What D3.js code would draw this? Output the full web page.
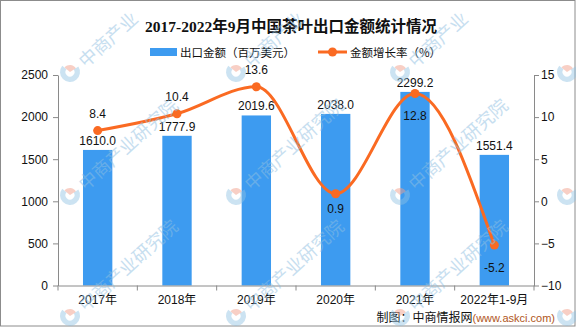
<!DOCTYPE html>
<html>
<head>
<meta charset="utf-8">
<script src="https://cdn.jsdelivr.net/npm/d3@7"></script>
<style>
  html, body { margin: 0; padding: 0; background: #fff; }
  svg { display: block; }
</style>
</head>
<body>
<svg id="chart" width="576" height="327"></svg>
<script>
// Tea export value (million USD) and year-on-year growth (%)
const categories = ["2017年", "2018年", "2019年", "2020年", "2021年", "2022年1-9月"];
const exportValue = [1610.0, 1777.9, 2019.6, 2038.0, 2299.2, 1551.4];
const growthRate = [8.4, 10.4, 13.6, 0.9, 12.8, -5.2];
const leftTicks = [0, 500, 1000, 1500, 2000, 2500];
const rightTicks = [-10, -5, 0, 5, 10, 15];

const titleText = "2017-2022年9月中国茶叶出口金额统计情况";
const barName = "出口金额（百万美元）";
const lineName = "金额增长率（%）";

const W = 576, H = 327;
const plot = { left: 58, right: 534, top: 75, bottom: 285.5 };
const barColor = "#3d9bf0";
const lineColor = "#fa6a22";
const axisColor = "#8a8a8a";
const cjk = "'Noto Sans CJK SC', 'Noto Sans', sans-serif";
const num = "'Liberation Sans', Arial, sans-serif";

const svg = d3.select("#chart");

// frame
svg.append("rect")
  .attr("x", 0.5).attr("y", 0.5)
  .attr("width", W - 1.5).attr("height", H - 1.5)
  .attr("fill", "#fff").attr("stroke", "#8c8c8c").attr("stroke-width", 1);

const x = d3.scaleBand().domain(categories).range([plot.left, plot.right]).padding(0);
const yL = d3.scaleLinear().domain([0, 2500]).range([plot.bottom, plot.top]);
const yR = d3.scaleLinear().domain([-10, 15]).range([plot.bottom, plot.top]);
const barW = x.bandwidth() * 0.37;
const cx = c => x(c) + x.bandwidth() / 2;

// title
svg.append("text")
  .attr("x", 291).attr("y", 32)
  .attr("text-anchor", "middle")
  .attr("font-family", "'Liberation Serif', " + cjk)
  .attr("font-weight", "bold")
  .attr("font-size", 15.5)
  .attr("fill", "#111")
  .text(titleText);

// legend
const lg = svg.append("g").attr("font-family", cjk).attr("font-size", 11.5).attr("fill", "#111");
lg.append("rect").attr("x", 150).attr("y", 48).attr("width", 27).attr("height", 8).attr("fill", barColor);
lg.append("text").attr("x", 180).attr("y", 56.5).text(barName);
lg.append("line").attr("x1", 318).attr("x2", 347).attr("y1", 52).attr("y2", 52)
  .attr("stroke", lineColor).attr("stroke-width", 3);
lg.append("circle").attr("cx", 332.5).attr("cy", 52).attr("r", 4.5).attr("fill", lineColor);
lg.append("text").attr("x", 350).attr("y", 56.5).text(lineName);

// bars
svg.append("g").selectAll("rect")
  .data(exportValue)
  .join("rect")
  .attr("x", (d, i) => cx(categories[i]) - barW / 2)
  .attr("y", d => yL(d))
  .attr("width", barW)
  .attr("height", d => yL(0) - yL(d))
  .attr("fill", barColor);

// bar value labels
svg.append("g").attr("font-family", num).attr("font-size", 12).attr("fill", "#111")
  .selectAll("text")
  .data(exportValue)
  .join("text")
  .attr("x", (d, i) => cx(categories[i]))
  .attr("y", d => yL(d) - 5)
  .attr("text-anchor", "middle")
  .text(d => d.toFixed(1));

// axes
function styleAxis(g) {
  g.select(".domain").attr("stroke", axisColor);
  g.selectAll(".tick line").attr("stroke", axisColor);
  g.selectAll(".tick text").attr("fill", "#111").attr("font-size", 12);
}

svg.append("g")
  .attr("transform", `translate(${plot.left},0)`)
  .call(d3.axisLeft(yL).tickValues(leftTicks).tickFormat(d3.format("d"))
    .tickSize(5).tickSizeOuter(0).tickPadding(5))
  .attr("font-family", num)
  .call(styleAxis);

svg.append("g")
  .attr("transform", `translate(${plot.right},0)`)
  .call(d3.axisRight(yR).tickValues(rightTicks).tickFormat(d3.format("d"))
    .tickSize(5).tickSizeOuter(0).tickPadding(2))
  .attr("font-family", num)
  .call(styleAxis);

const xAxis = svg.append("g")
  .attr("transform", `translate(0,${plot.bottom})`)
  .call(d3.axisBottom(x).tickSize(0).tickPadding(10))
  .attr("font-family", num)
  .call(styleAxis);
xAxis.selectAll(".tick text").attr("font-family", num + ", " + cjk);

// category boundary ticks
const bounds = categories.map(c => x(c)).concat([x.range()[1]]);
svg.append("g").selectAll("line")
  .data(bounds)
  .join("line")
  .attr("x1", d => d).attr("x2", d => d)
  .attr("y1", plot.bottom).attr("y2", plot.bottom + 5)
  .attr("stroke", axisColor);

// growth line
const line = d3.line()
  .x((d, i) => cx(categories[i]))
  .y(d => yR(d))
  .curve(d3.curveMonotoneX);

svg.append("path")
  .datum(growthRate)
  .attr("d", line)
  .attr("fill", "none")
  .attr("stroke", lineColor)
  .attr("stroke-width", 3);

svg.append("g").selectAll("circle")
  .data(growthRate)
  .join("circle")
  .attr("cx", (d, i) => cx(categories[i]))
  .attr("cy", d => yR(d))
  .attr("r", 4.5)
  .attr("fill", lineColor);

// growth labels: above for the first three points, below for the rest
const rateLabelDy = [-13, -13, -13, 19, 26, 27];
svg.append("g").attr("font-family", num).attr("font-size", 12).attr("fill", "#111")
  .selectAll("text")
  .data(growthRate)
  .join("text")
  .attr("x", (d, i) => cx(categories[i]))
  .attr("y", (d, i) => yR(d) + rateLabelDy[i])
  .attr("text-anchor", "middle")
  .text(d => d.toFixed(1));

// source note
const src = svg.append("text")
  .attr("x", 555).attr("y", 322)
  .attr("text-anchor", "end")
  .attr("font-size", 12);
src.append("tspan").attr("font-family", cjk).attr("fill", "#111").text("制图：中商情报网");
src.append("tspan").attr("font-family", num).attr("font-size", 11).attr("fill", "#b0561c").text("(www.askci.com)");

// watermark pattern: logo mark plus the institute name, tilted;
// the top row only carries the part of the name that stays on the canvas,
// the right-hand column only its logo
const wmXs = [70, 236, 400, 567];
const wmYs = [72, 195, 316];
const wmName = "中商产业研究院";
const wm = svg.append("g").attr("pointer-events", "none");
wmYs.forEach((wy, row) => wmXs.forEach((wx, col) => {
  const g = wm.append("g").attr("transform", `translate(${wx},${wy}) rotate(-42)`);
  const ring = d3.arc().innerRadius(4.5).outerRadius(10);
  g.append("path")
    .attr("d", ring({ startAngle: Math.PI * 0.55, endAngle: Math.PI * 1.95 }))
    .attr("fill", "#8fc0e2").attr("opacity", 0.45);
  g.append("path")
    .attr("d", d3.arc().innerRadius(0).outerRadius(7)({ startAngle: -Math.PI * 0.05, endAngle: Math.PI * 0.55 }))
    .attr("fill", "#f2a08c").attr("opacity", 0.5);
  if (col === wmXs.length - 1) return;
  const label = row === 0 ? wmName.slice(0, 4) : wmName;
  g.append("text")
    .attr("x", 14).attr("y", 0)
    .attr("dominant-baseline", "central")
    .attr("font-family", cjk)
    .attr("font-size", 18)
    .attr("fill", "#8fc0e2")
    .attr("opacity", 0.5)
    .text(label);
}));
</script>
</body>
</html>
